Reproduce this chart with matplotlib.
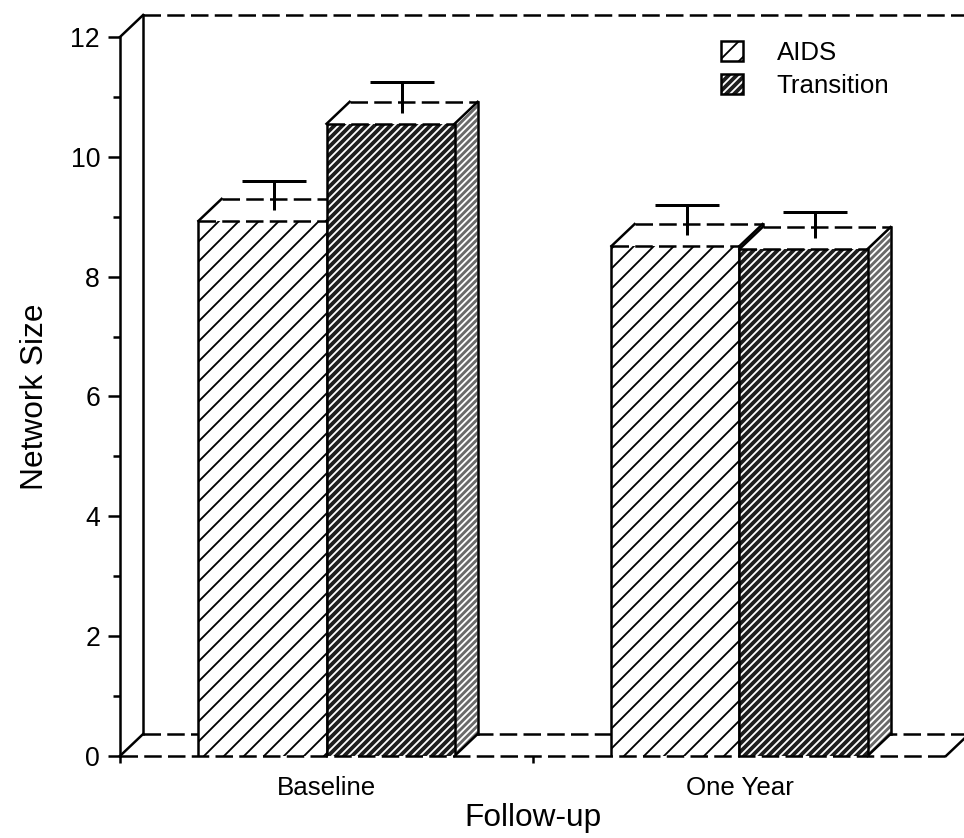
import numpy as np
import matplotlib.pyplot as plt
from matplotlib.patches import Polygon, Patch
from matplotlib.legend_handler import HandlerTuple

# данные
groups = ['Baseline', 'One Year']
series = ['AIDS', 'Transition']
aids = [8.93, 8.51]
aids_err = [0.49, 0.51]
trans = [10.55, 8.46]
trans_err = [0.51, 0.43]

plt.rcParams['font.family'] = ['Liberation Sans', 'DejaVu Sans']
plt.rcParams['hatch.linewidth'] = 1.1

fig = plt.figure(figsize=(964 / 120, 838 / 120), dpi=120)
ax = fig.add_axes([0.1245, 0.0979, 0.8568, 0.858])
ax.set_xlim(0, 2)
ax.set_ylim(0, 12)

centers = np.arange(len(groups)) + 0.5
w = 0.31
dx, dy = 0.056, 0.367   # глубина "3D" в единицах данных
dash = (0, (7, 2.5))
lw = 1.5

styles = {
    'AIDS': dict(face='white', hcol='black', hatch='//', side='white', shatch=None),
    'Transition': dict(face='#1e1e1e', hcol='white', hatch='/////', side='#6a6a6a', shatch='//////'),
}


def draw_bar(x0, h, err, st, z):
    x1 = x0 + w
    # боковая грань
    ax.add_patch(Polygon([(x1, 0), (x1 + dx, dy), (x1 + dx, h + dy), (x1, h)],
                         closed=True, facecolor=st['side'], edgecolor='white' if st['shatch'] else 'black',
                         hatch=st['shatch'], linewidth=0, zorder=z, clip_on=False))
    ax.plot([x1 + dx, x1 + dx], [dy, h + dy], color='black', lw=lw, zorder=z + 0.1, clip_on=False)
    ax.plot([x1, x1 + dx], [0, dy], color='black', lw=lw, zorder=z + 0.1, clip_on=False)
    # верхняя грань
    ax.add_patch(Polygon([(x0, h), (x0 + dx, h + dy), (x1 + dx, h + dy), (x1, h)],
                         closed=True, facecolor='white', edgecolor='none', zorder=z, clip_on=False))
    ax.plot([x0 + dx, x1 + dx], [h + dy, h + dy], color='black', lw=lw, ls=dash, zorder=z + 0.1, clip_on=False)
    ax.plot([x0, x0 + dx], [h, h + dy], color='black', lw=lw, zorder=z + 0.1, clip_on=False)
    ax.plot([x1, x1 + dx], [h, h + dy], color='black', lw=lw, zorder=z + 0.1, clip_on=False)
    # передняя грань
    ax.bar(x0, h, w, align='edge', color=st['face'], edgecolor=st['hcol'], hatch=st['hatch'],
           linewidth=0, zorder=z + 0.2)
    ax.plot([x0, x0], [0, h], color='black', lw=lw, zorder=z + 0.3)
    ax.plot([x1, x1], [0, h], color='black', lw=lw, zorder=z + 0.3)
    ax.plot([x0, x1], [h, h], color='black', lw=lw, ls=dash, zorder=z + 0.3, clip_on=False)
    # погрешность (только вверх)
    xm = x0 + w / 2 + dx / 2
    ax.vlines(xm, h + dy / 2, h + dy / 2 + err, color='black', lw=1.8, zorder=z + 0.4, clip_on=False)
    ax.hlines(h + dy / 2 + err, xm - w / 4, xm + w / 4, color='black', lw=1.8, zorder=z + 0.4, clip_on=False)


z = 3
for i in range(len(groups)):
    draw_bar(centers[i] - w, aids[i], aids_err[i], styles['AIDS'], z)
    z += 1
    draw_bar(centers[i], trans[i], trans_err[i], styles['Transition'], z)
    z += 1

# задняя стенка и пол
kw = dict(color='black', lw=lw, clip_on=False)
ax.plot([dx, dx], [dy, 12 + dy], zorder=1, **kw)
ax.plot([0, dx], [12, 12 + dy], zorder=1, **kw)
ax.plot([dx, 2.2], [12 + dy, 12 + dy], ls=dash, zorder=1, **kw)
ax.plot([0, dx], [0, dy], zorder=1, **kw)
ax.plot([dx, 2.2], [dy, dy], ls=dash, zorder=1, **kw)
ax.plot([0, 2], [0, 0], ls=dash, zorder=20, **kw)
ax.plot([2, 2 + dx], [0, dy], zorder=20, **kw)

for s in ['top', 'right', 'bottom']:
    ax.spines[s].set_visible(False)
ax.spines['left'].set_linewidth(lw)
ax.spines['left'].set_zorder(20)

ax.set_yticks(range(0, 13, 2))
ax.set_yticks(range(1, 12, 2), minor=True)
ax.tick_params(axis='y', which='major', length=7, width=lw, labelsize=16, pad=5)
ax.tick_params(axis='y', which='minor', length=4, width=lw)
ax.set_xticks([0, 1], ['', ''])
ax.set_xticks(centers, groups, minor=True)
ax.tick_params(axis='x', which='major', length=4, width=lw)
ax.tick_params(axis='x', which='minor', length=0, labelsize=15.5, pad=12)

ax.set_ylabel('Network Size', fontsize=19, labelpad=12)
ax.set_xlabel('Follow-up', fontsize=19, labelpad=2)

# легенда
h_aids = Patch(facecolor='white', edgecolor='black', hatch='//', linewidth=1.5)
h_tr = (Patch(facecolor='#1e1e1e', edgecolor='white', hatch='/////', linewidth=0),
        Patch(fill=False, edgecolor='black', linewidth=1.5))
ax.legend([h_aids, h_tr], series, handler_map={tuple: HandlerTuple(ndivide=1)},
          loc='upper left', bbox_to_anchor=(0.728, 0.995), frameon=False, fontsize=15.5,
          borderpad=0, borderaxespad=0, handlelength=0.85, handleheight=0.85,
          handletextpad=1.3, labelspacing=0.35)

fig.savefig('out.png', dpi=120)
